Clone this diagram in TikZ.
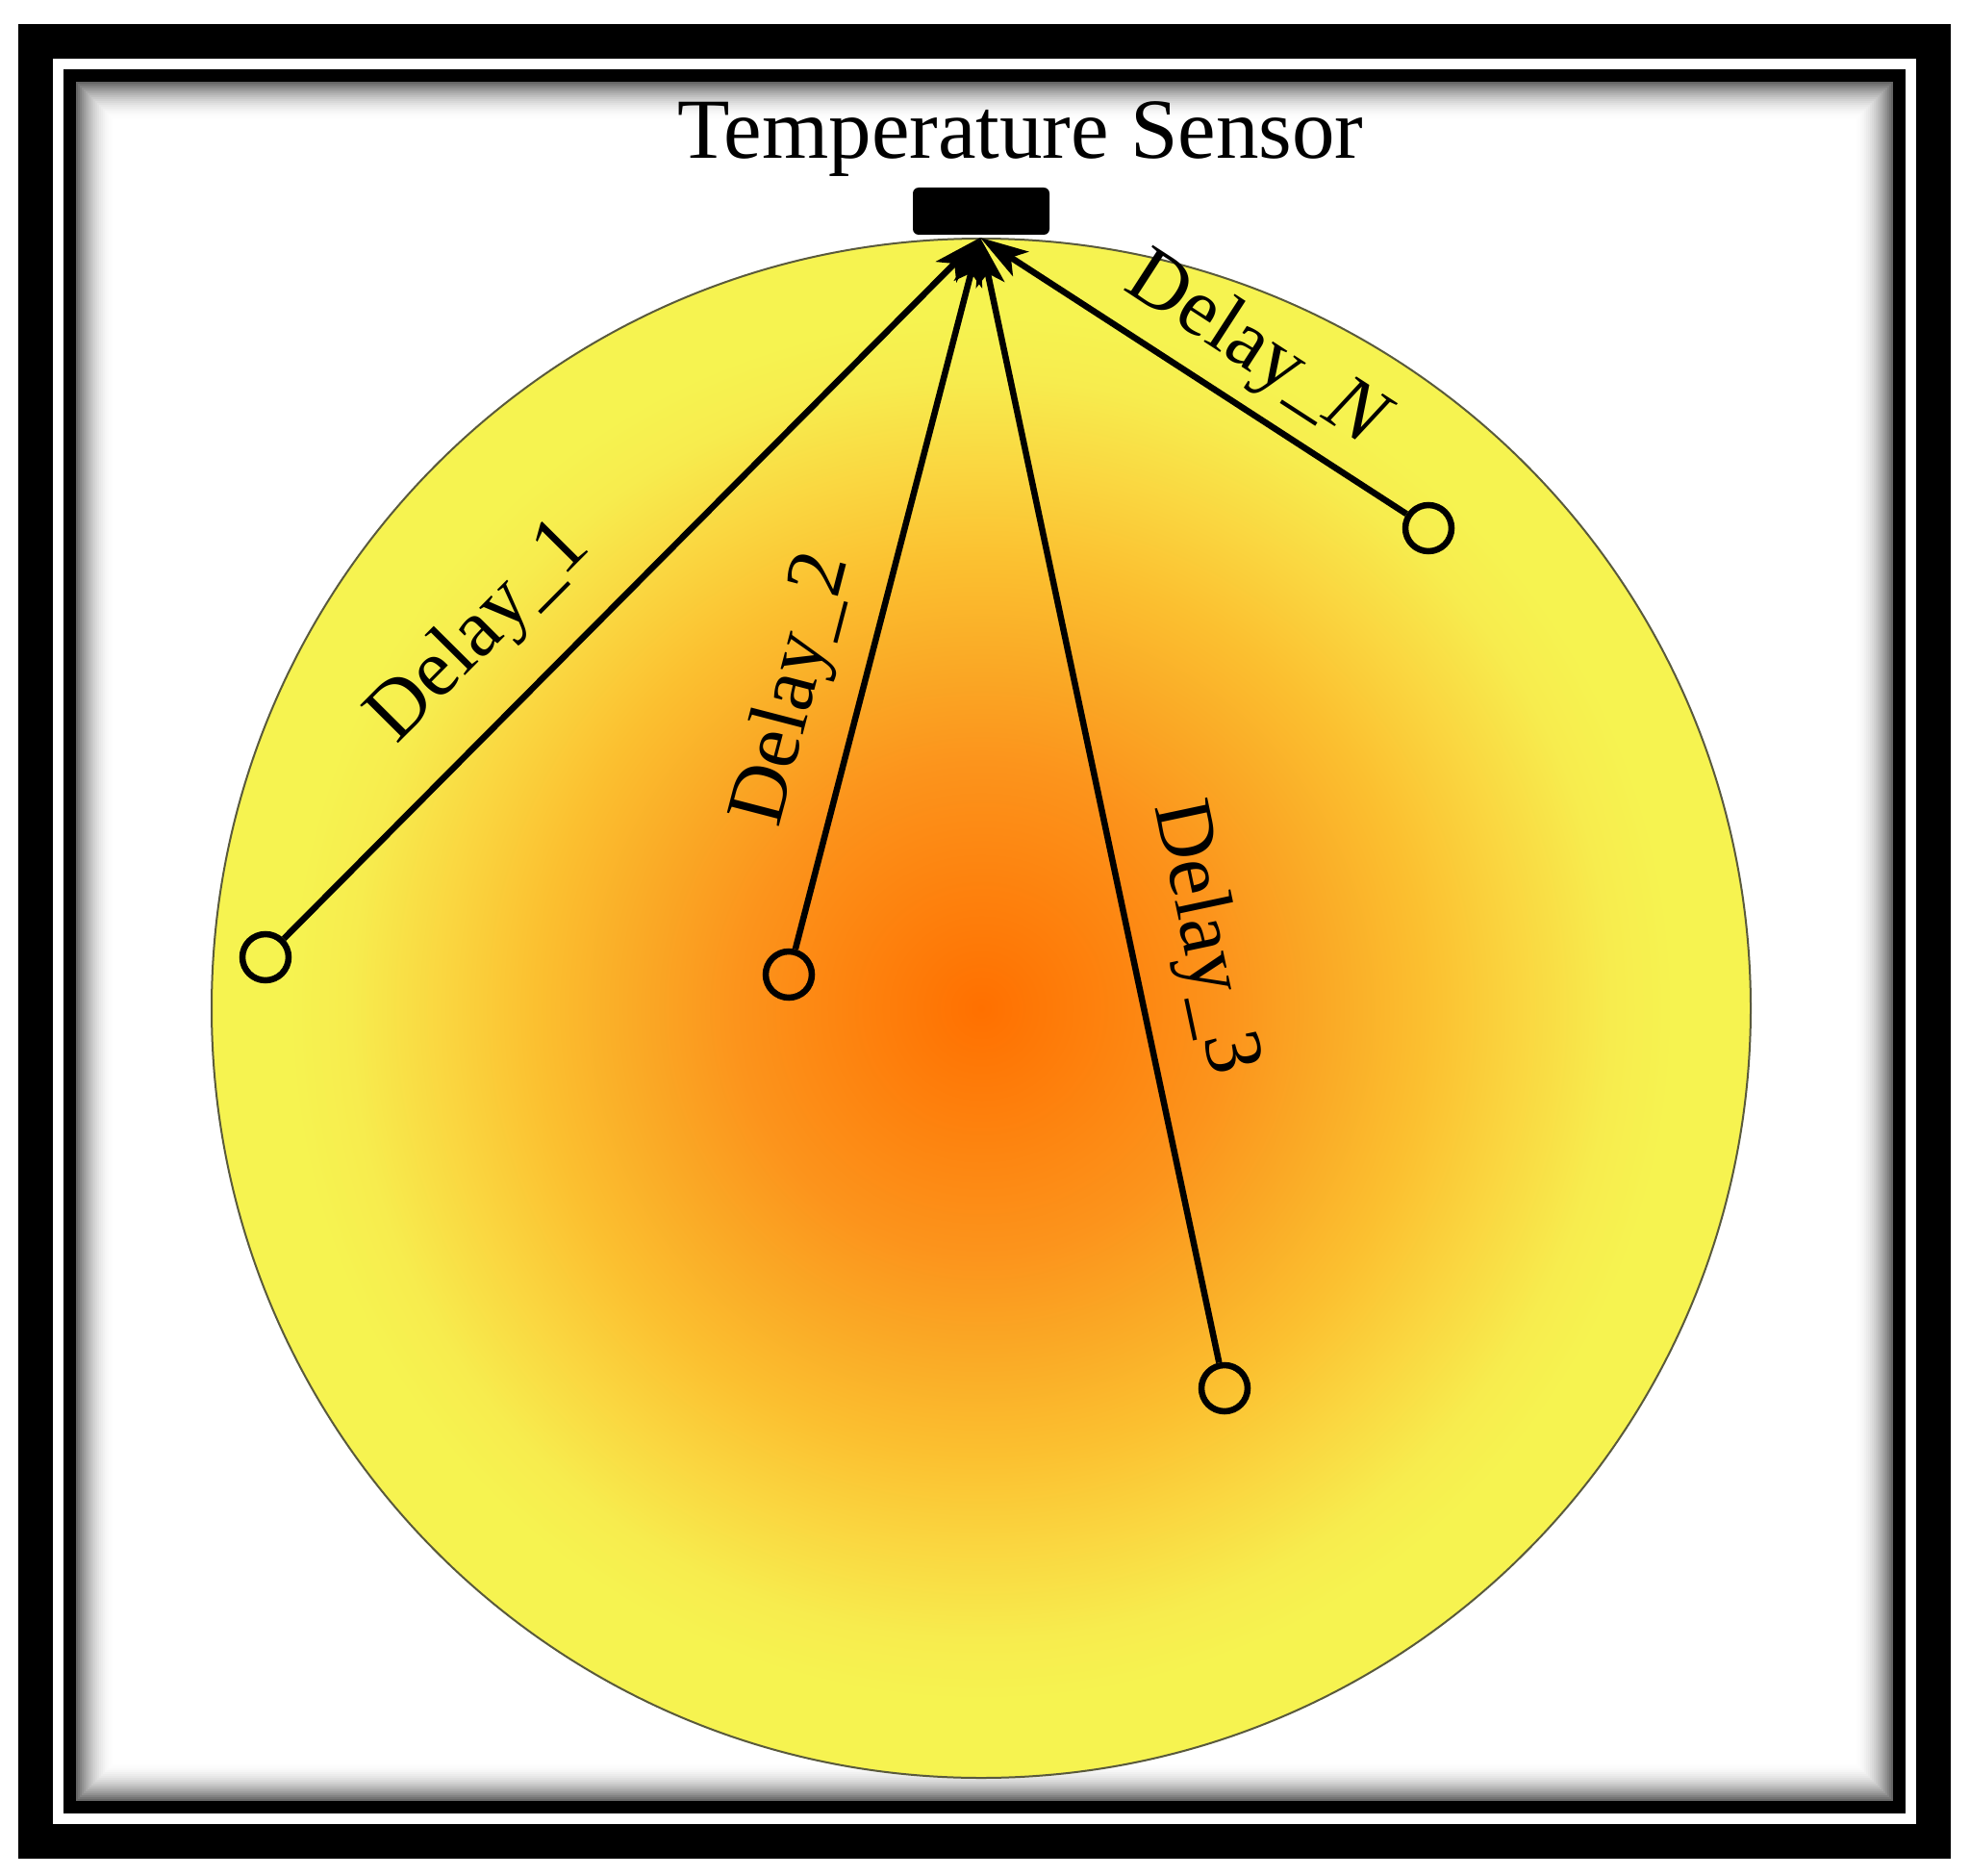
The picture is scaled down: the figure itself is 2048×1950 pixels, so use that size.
\documentclass[tikz,border=0pt]{standalone}
\usepackage{fontspec}
\setmainfont{Liberation Serif}
\usetikzlibrary{arrows.meta}
\definecolor{h0}{RGB}{255,112,0}
\definecolor{h1}{RGB}{252,148,28}
\definecolor{h2}{RGB}{250,168,37}
\definecolor{h3}{RGB}{251,192,48}
\definecolor{h4}{RGB}{250,214,64}
\definecolor{h5}{RGB}{247,236,78}
\definecolor{h6}{RGB}{246,243,80}
\definecolor{rimcol}{RGB}{90,90,60}
\pgfdeclareradialshading{heat}{\pgfpoint{0bp}{0bp}}{color(0bp)=(h0); color(8bp)=(h1); color(11bp)=(h2); color(14.5bp)=(h3); color(17.5bp)=(h4); color(20.5bp)=(h5); color(22.5bp)=(h6); color(50bp)=(h6)}
\begin{document}
\begin{tikzpicture}[x=1pt,y=-1pt,
  endpt/.style={circle, draw, line width=6.5pt, minimum size=48pt, inner sep=0pt},
  sig/.style={line width=6.5pt, -{Stealth[length=50pt,width=30pt,inset=12pt]}},
  lbl/.style={font=\fontsize{85}{100}\selectfont, sloped, inner sep=0pt}]
\useasboundingbox (0,0) rectangle (2048,1950);
\fill[white] (0,0) rectangle (2048,1950);
% inner shadow
\foreach \i in {0,...,19}{
  \pgfmathsetmacro\p{60*(1-\i/20)^2}
  \draw[line width=2.2pt, black!\p] (80+2*\i, 86+2*\i) rectangle (1967-2*\i, 1871-2*\i);
}
% frames
\draw[line width=36pt] (37,43) rectangle (2010,1914);
\draw[line width=13pt] (72.5,78.5) rectangle (1974.5,1878.5);
% heat disc
\shade[shading=heat] (1020,1048) circle (800);
\draw[line width=2pt, rimcol] (1020,1048) circle (800);
% sensor and title
\node[fill=black, rounded corners=6pt, minimum width=142pt, minimum height=49pt, inner sep=0pt] (sensor) at (1020,219.5) {};
\node[anchor=base, font=\fontsize{89}{100}\selectfont, inner sep=0pt] (title) at (1061,165) {Temperature Sensor};
\coordinate (tip) at (1019,247);
% end points
\node[endpt] (e1) at (276,995) {};
\node[endpt] (e2) at (820,1013) {};
\node[endpt] (e3) at (1273,1443) {};
\node[endpt] (eN) at (1485,549) {};
% connectors
\draw[sig] (e1) -- node[lbl, pos=0.36, above=37pt] {Delay\_1} (tip);
\draw[sig] (e2) -- node[lbl, pos=0.341, above=27pt] {Delay\_2} (tip);
\draw[sig] (e3) -- node[lbl, pos=0.364, above=33pt] {Delay\_3} (tip);
\draw[sig] (eN) -- node[lbl, pos=0.42, above=14pt] {Delay\_\textit{N}} (tip);
\end{tikzpicture}
\end{document}
